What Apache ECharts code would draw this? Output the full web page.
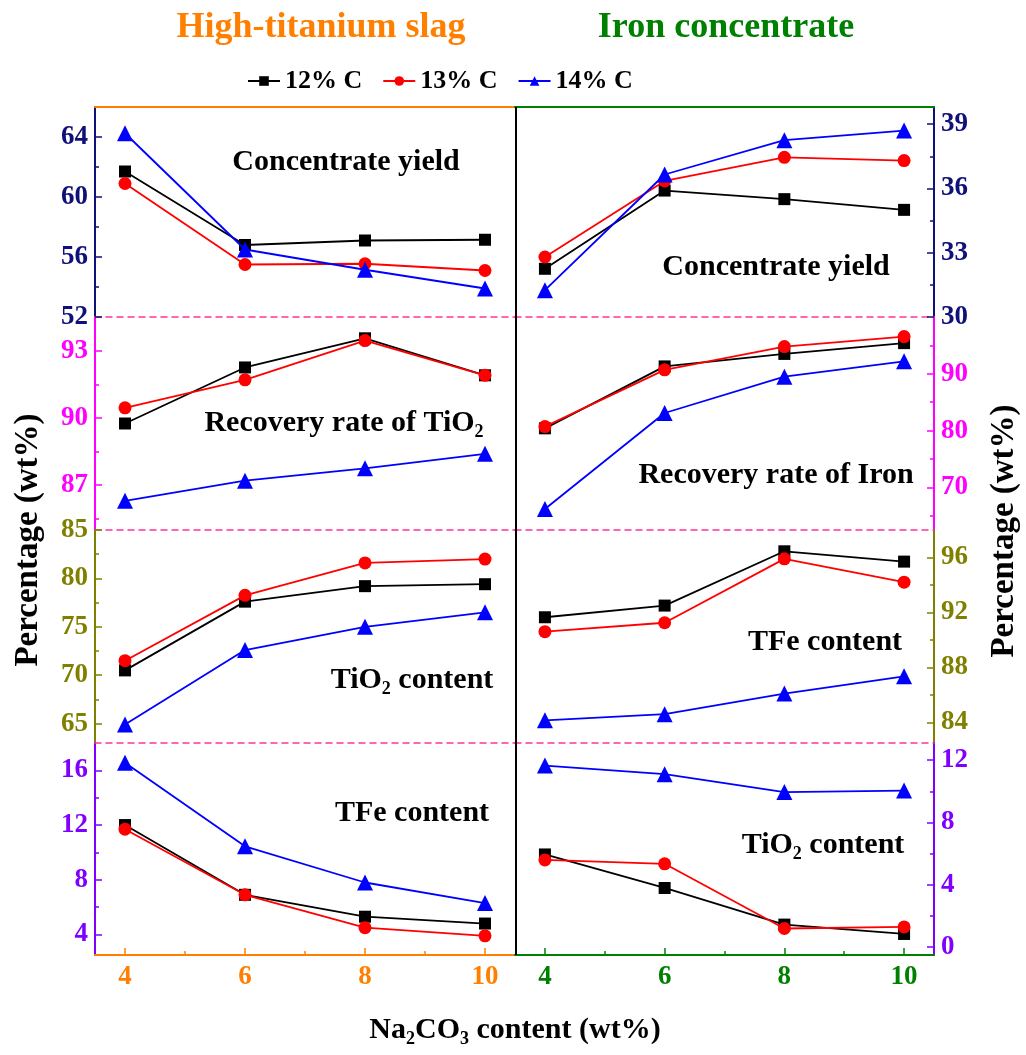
<!DOCTYPE html>
<html>
<head>
<meta charset="utf-8">
<script src="https://cdn.jsdelivr.net/npm/echarts@6/dist/echarts.min.js"></script>
<style>html,body{margin:0;padding:0;background:#fff}#chart{width:1026px;height:1055px}</style>
</head>
<body>
<div id="chart"></div>
<script>
// ---------------- DATA ----------------
const xValues = [4, 6, 8, 10];
const xTickValues = [4, 6, 8, 10];
const xMinorTickValues = [5, 7, 9];
const seriesNames = ['12% C', '13% C', '14% C'];

// High-titanium slag (left panel)
const slagYield12 = [61.7, 56.8, 57.1, 57.15];
const slagYield13 = [60.9, 55.5, 55.55, 55.1];
const slagYield14 = [64.25, 56.5, 55.15, 53.9];

const slagRecTiO2_12 = [89.75, 92.25, 93.55, 91.9];
const slagRecTiO2_13 = [90.45, 91.7, 93.45, 91.9];
const slagRecTiO2_14 = [86.3, 87.2, 87.75, 88.4];

const slagTiO2_12 = [70.5, 77.6, 79.2, 79.4];
const slagTiO2_13 = [71.5, 78.25, 81.6, 82.0];
const slagTiO2_14 = [64.9, 72.6, 75.0, 76.5];

const slagTFe12 = [12.0, 6.9, 5.3, 4.8];
const slagTFe13 = [11.7, 6.9, 4.5, 3.9];
const slagTFe14 = [16.55, 10.45, 7.8, 6.3];

// Iron concentrate (right panel)
const ironYield12 = [32.25, 35.9, 35.5, 35.0];
const ironYield13 = [32.8, 36.35, 37.45, 37.3];
const ironYield14 = [31.25, 36.65, 38.25, 38.7];

const ironRecFe12 = [80.4, 91.3, 93.5, 95.4];
const ironRecFe13 = [80.7, 90.7, 94.8, 96.55];
const ironRecFe14 = [66.2, 83.1, 89.5, 92.2];

const ironTFe12 = [91.65, 92.5, 96.45, 95.7];
const ironTFe13 = [90.6, 91.25, 95.9, 94.2];
const ironTFe14 = [84.15, 84.6, 86.1, 87.35];

const ironTiO2_12 = [5.95, 3.8, 1.45, 0.85];
const ironTiO2_13 = [5.6, 5.35, 1.2, 1.3];
const ironTiO2_14 = [11.65, 11.1, 9.95, 10.05];

// Y-axis ranges and tick labels (left panel rows, then right panel rows)
const leftRanges = [[52, 66], [85, 94.5], [63, 85], [2.5, 18]];
const leftTicks = [[52, 56, 60, 64], [87, 90, 93], [65, 70, 75, 80, 85], [4, 8, 12, 16]];
const leftMinor = [[54, 58, 62], [85.5, 88.5, 91.5], [67.5, 72.5, 77.5, 82.5], [6, 10, 14]];
const rightRanges = [[30, 39.8], [62.5, 100], [82.5, 98], [-0.5, 13.1]];
const rightTicks = [[30, 33, 36, 39], [70, 80, 90], [84, 88, 92, 96], [0, 4, 8, 12]];
const rightMinor = [[31.5, 34.5, 37.5], [65, 75, 85, 95], [86, 90, 94], [2, 6, 10]];

const leftData = [
  [slagYield12, slagYield13, slagYield14],
  [slagRecTiO2_12, slagRecTiO2_13, slagRecTiO2_14],
  [slagTiO2_12, slagTiO2_13, slagTiO2_14],
  [slagTFe12, slagTFe13, slagTFe14]
];
const rightData = [
  [ironYield12, ironYield13, ironYield14],
  [ironRecFe12, ironRecFe13, ironRecFe14],
  [ironTFe12, ironTFe13, ironTFe14],
  [ironTiO2_12, ironTiO2_13, ironTiO2_14]
];

// ---------------- STYLE / LAYOUT ----------------
const FONT = '"Liberation Serif", "Times New Roman", serif';
const rowColors = ['#10107a', '#ff00ff', '#808000', '#8000ff'];
const panelColors = ['#ff8000', '#008000'];
const dashColor = '#ff3399';
const seriesColors = ['#000000', '#ff0000', '#0000ff'];
const seriesSymbols = ['rect', 'circle', 'triangle'];
const seriesSymbolSizes = [12, 13, 16];
const TICK_FONT = 27;

const colLeft = [95, 515];
const colWidth = [420, 419];
const rowEdges = [107, 317, 530, 743, 955];

const grids = [], xAxes = [], yAxes = [], series = [];

for (let col = 0; col < 2; col++) {
  for (let row = 0; row < 4; row++) {
    const g = grids.length;
    grids.push({
      left: colLeft[col], width: colWidth[col],
      top: rowEdges[row], height: rowEdges[row + 1] - rowEdges[row],
      outerBoundsMode: 'none', containLabel: false
    });
    const isBottom = row === 3;
    const xMain = xAxes.length;
    xAxes.push({
      gridIndex: g, type: 'value', position: 'bottom', min: 3.5, max: 10.5,
      show: isBottom,
      axisLine: { show: true, onZero: false, lineStyle: { color: panelColors[col], width: 2 } },
      axisTick: { show: true, inside: true, length: 7, customValues: xTickValues, lineStyle: { color: panelColors[col], width: 1.5 } },
      axisLabel: { show: true, customValues: xTickValues, color: panelColors[col], fontFamily: FONT, fontWeight: 'bold', fontSize: TICK_FONT, margin: 9 },
      splitLine: { show: false }
    });
    if (isBottom) {
      xAxes.push({
        gridIndex: g, type: 'value', position: 'bottom', min: 3.5, max: 10.5,
        axisLine: { show: false, onZero: false },
        axisTick: { show: true, inside: true, length: 4, customValues: xMinorTickValues, lineStyle: { color: panelColors[col], width: 1.5 } },
        axisLabel: { show: false },
        splitLine: { show: false }
      });
    }
    xAxes.push({
      gridIndex: g, type: 'value', position: 'top', min: 3.5, max: 10.5,
      axisLine: { show: true, onZero: false, lineStyle: row === 0 ? { color: panelColors[col], width: 2 } : { color: dashColor, width: 1.5, type: [6, 5] } },
      axisTick: { show: false }, axisLabel: { show: false }, splitLine: { show: false }
    });

    const rng = col === 0 ? leftRanges[row] : rightRanges[row];
    const ticks = col === 0 ? leftTicks[row] : rightTicks[row];
    const minor = col === 0 ? leftMinor[row] : rightMinor[row];
    const pos = col === 0 ? 'left' : 'right';
    const yMain = yAxes.length;
    yAxes.push({
      gridIndex: g, type: 'value', position: pos, min: rng[0], max: rng[1],
      axisLine: { show: true, onZero: false, lineStyle: { color: rowColors[row], width: 2 } },
      axisTick: { show: true, inside: true, length: 7, customValues: ticks, lineStyle: { color: rowColors[row], width: 1.5 } },
      axisLabel: { show: true, customValues: ticks, color: rowColors[row], fontFamily: FONT, fontWeight: 'bold', fontSize: TICK_FONT, margin: 7 },
      splitLine: { show: false }
    });
    yAxes.push({
      gridIndex: g, type: 'value', position: pos, min: rng[0], max: rng[1],
      axisLine: { show: false, onZero: false },
      axisTick: { show: true, inside: true, length: 4, customValues: minor, lineStyle: { color: rowColors[row], width: 1.5 } },
      axisLabel: { show: false }, splitLine: { show: false }
    });

    const dataSet = col === 0 ? leftData[row] : rightData[row];
    for (let s = 0; s < 3; s++) {
      series.push({
        name: seriesNames[s], type: 'line', xAxisIndex: xMain, yAxisIndex: yMain,
        data: xValues.map((x, i) => [x, dataSet[s][i]]),
        symbol: seriesSymbols[s], symbolSize: seriesSymbolSizes[s],
        itemStyle: { color: seriesColors[s] },
        lineStyle: { color: seriesColors[s], width: 1.8 },
        emphasis: { disabled: true }, animation: false, z: 3 + s
      });
    }
  }
}

const annotations = [
  { text: 'Concentrate yield', x: 346, y: 162 },
  { text: 'Recovery rate of TiO{sub|2}', x: 344, y: 423 },
  { text: 'TiO{sub|2} content', x: 412, y: 680 },
  { text: 'TFe content', x: 412, y: 813 },
  { text: 'Concentrate yield', x: 776, y: 267 },
  { text: 'Recovery rate of Iron', x: 776, y: 475 },
  { text: 'TFe content', x: 825, y: 642 },
  { text: 'TiO{sub|2} content', x: 823, y: 845 }
];

const subRich = { sub: { fontSize: 18, fontFamily: FONT, fontWeight: 'bold', padding: [18, 0, 0, 0], fill: '#000' } };

const graphic = [
  { type: 'line', shape: { x1: 516, y1: rowEdges[0], x2: 516, y2: rowEdges[4] }, style: { stroke: '#000', lineWidth: 2 }, z: 50 },
  { type: 'text', x: 321, y: 28, style: { text: 'High-titanium slag', font: 'bold 36px ' + FONT, fill: panelColors[0], align: 'center', verticalAlign: 'middle' } },
  { type: 'text', x: 726, y: 28, style: { text: 'Iron concentrate', font: 'bold 36px ' + FONT, fill: panelColors[1], align: 'center', verticalAlign: 'middle' } },
  { type: 'text', x: 28, y: 540, rotation: Math.PI / 2, style: { text: 'Percentage (wt%)', font: 'bold 33px ' + FONT, fill: '#000', align: 'center', verticalAlign: 'middle' } },
  { type: 'text', x: 1004, y: 531, rotation: Math.PI / 2, style: { text: 'Percentage (wt%)', font: 'bold 33px ' + FONT, fill: '#000', align: 'center', verticalAlign: 'middle' } },
  { type: 'text', x: 515, y: 1030, style: { text: 'Na{sub|2}CO{sub|3} content (wt%)', font: 'bold 30px ' + FONT, fill: '#000', align: 'center', verticalAlign: 'middle', rich: subRich } }
].concat(annotations.map(a => ({
  type: 'text', x: a.x, y: a.y, z: 40,
  style: { text: a.text, font: 'bold 30px ' + FONT, fill: '#000', align: 'center', verticalAlign: 'middle', rich: subRich }
})));

const chart = echarts.init(document.getElementById('chart'), null, { renderer: 'canvas' });
chart.setOption({
  backgroundColor: '#fff',
  animation: false,
  textStyle: { fontFamily: FONT },
  legend: {
    data: seriesNames, left: 242, top: 63, itemWidth: 32, itemHeight: 12, itemGap: 20,
    textStyle: { fontFamily: FONT, fontWeight: 'bold', fontSize: 26, color: '#000' },
    selectedMode: false
  },
  grid: grids,
  xAxis: xAxes,
  yAxis: yAxes,
  series: series,
  graphic: graphic
});
</script>
</body>
</html>
